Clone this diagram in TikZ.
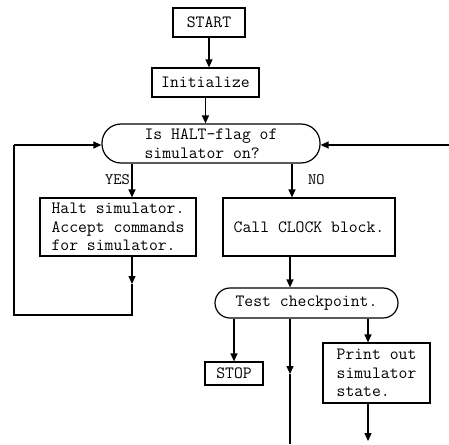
\documentclass[tikz,border=0pt]{standalone}
\usepackage{fontspec}
\newcommand\twfont{\ttfamily\addfontfeature{FakeBold=0.6}}
\usetikzlibrary{arrows.meta}
\begin{document}
\begin{tikzpicture}[x=1pt,y=-1pt,
  every node/.style={font=\twfont\fontsize{17.2}{18.5}\selectfont, inner sep=0pt},
  box/.style={draw, line width=1.2pt, rectangle},
  term/.style={draw, line width=1.2pt, rectangle},
  conn/.style={line width=1.2pt},
  arr/.style={conn, -{Triangle[length=8pt,width=7pt]}},
  lbl/.style={font=\twfont\fontsize{16}{17}\selectfont}]
\useasboundingbox (0,0) rectangle (449,444);
% nodes
\node[box, minimum width=72pt, minimum height=29pt] (start) at (209,22.5) {START};
\node[box, minimum width=107pt, minimum height=29pt] (init) at (205.5,82.5) {Initialize};
\node[term, rounded corners=19pt, minimum width=218pt, minimum height=39pt, align=left] (q1) at (211,143.5) {Is HALT-flag of\\simulator on?};
\node[box, minimum width=156pt, minimum height=58pt, align=left] (haltbox) at (118,227) {Halt simulator.\\Accept commands\\for simulator.};
\node[box, minimum width=172pt, minimum height=58pt] (clock) at (309,227) {Call CLOCK block.};
\node[term, rounded corners=15pt, minimum width=183pt, minimum height=30pt] (test) at (306.5,303) {Test checkpoint.};
\node[box, minimum width=58pt, minimum height=23pt] (stop) at (234,373.5) {STOP};
\node[box, minimum width=107pt, minimum height=60pt, align=left] (print) at (376.5,373) {Print out\\simulator\\state.};
% labels
\node[lbl, anchor=east] (yes) at (130,180) {YES};
\node[lbl, anchor=west] (no) at (308,180) {NO};
% helper coordinates
\coordinate (yx) at (132,0);
\coordinate (nx) at (292,0);
\coordinate (cx) at (290,0);
\coordinate (px) at (368,0);
\coordinate (hmid) at (132,284);
\coordinate (hbot) at (132,315);
\coordinate (lbot) at (14,315);
\coordinate (ltop) at (14,145);
\coordinate (rin) at (449,145);
\coordinate (mmid) at (290,374);
\coordinate (mbot) at (290,444);
\coordinate (pbot) at (368,441);
% connectors
\draw[arr] (start.south) -- (start.south |- init.north);
\draw[arr] (init.south) -- (init.south |- q1.north);
\draw[arr] (q1.south -| yx) -- (haltbox.north -| yx);
\draw[arr] (q1.south -| nx) -- (clock.north -| nx);
\draw[arr] (haltbox.south -| yx) -- (hmid);
\draw[conn] (hmid) -- (hbot) -- (lbot) -- (ltop);
\draw[arr] (ltop) -- (q1.west |- ltop);
\draw[arr] (rin) -- (q1.east |- rin);
\draw[arr] (clock.south -| cx) -- (test.north -| cx);
\draw[arr] (test.south -| stop.north) -- (stop.north);
\draw[arr] (test.south -| cx) -- (mmid);
\draw[conn] (mmid) -- (mbot);
\draw[arr] (test.south -| px) -- (print.north -| px);
\draw[arr] (print.south -| px) -- (pbot);
\end{tikzpicture}
\end{document}
